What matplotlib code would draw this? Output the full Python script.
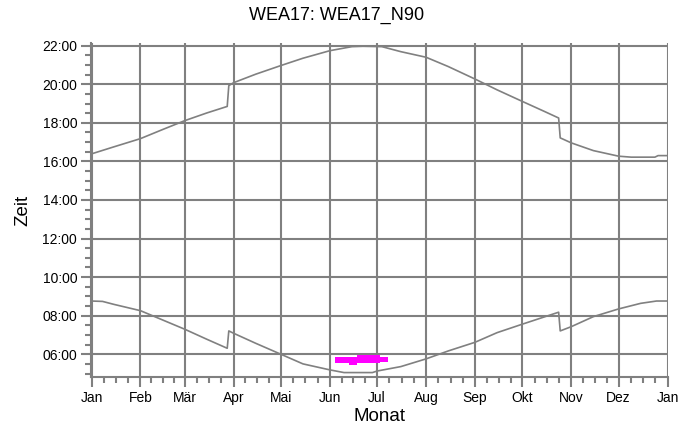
import numpy as np
import matplotlib
matplotlib.use("Agg")
import matplotlib.pyplot as plt
from matplotlib.ticker import FixedLocator, MultipleLocator, FuncFormatter

plt.rcParams['font.family'] = ['Liberation Sans', 'DejaVu Sans']

# month labels and lengths (day of year axis)
month_labels = ["Jan", "Feb", "Mär", "Apr", "Mai", "Jun", "Jul",
                "Aug", "Sep", "Okt", "Nov", "Dez", "Jan"]
month_days = [31, 28, 31, 30, 31, 30, 31, 31, 30, 31, 30, 31]

# upper curve (sunset, local time in hours)
days_top = [0, 14, 31, 45, 59, 73, 86, 87, 90, 104, 120, 134, 151, 165, 172,
            184, 196, 212, 226, 243, 257, 273, 287, 296, 297, 304, 318, 334,
            342, 357, 359, 365]
time_top = [16.39, 16.75, 17.18, 17.65, 18.11, 18.51, 18.85, 19.93, 20.08,
            20.52, 20.97, 21.35, 21.74, 21.95, 21.97, 21.95, 21.69, 21.40,
            20.92, 20.27, 19.71, 19.11, 18.59, 18.25, 17.22, 16.96, 16.56,
            16.27, 16.22, 16.22, 16.30, 16.30]

# lower curve (sunrise)
days_bot = [0, 7, 14, 31, 45, 59, 73, 86, 87, 90, 104, 120, 134, 151, 160,
            178, 181, 196, 212, 226, 243, 257, 273, 296, 297, 304, 318, 334,
            348, 358, 365]
time_bot = [8.76, 8.74, 8.59, 8.26, 7.78, 7.30, 6.78, 6.31, 7.21, 7.09, 6.57,
            6.00, 5.50, 5.19, 5.05, 5.05, 5.13, 5.36, 5.76, 6.17, 6.62, 7.12,
            7.56, 8.18, 7.21, 7.43, 7.95, 8.35, 8.64, 8.76, 8.76]

# shadow flicker periods (day, start, end)
flick_days = [154, 158, 162, 164, 167, 169, 172, 175, 178, 181, 184, 186, 188]
flick_start = [5.53, 5.53, 5.53, 5.44, 5.44, 5.53, 5.53, 5.53, 5.53, 5.53,
               5.62, 5.62, 5.62]
flick_end = [5.84, 5.84, 5.84, 5.84, 5.84, 5.96, 5.96, 5.96, 5.96, 5.96,
             5.88, 5.88, 5.88]

gray = "#808080"

fig = plt.figure(figsize=(6.97, 4.32), dpi=100)
ax = fig.add_axes([0.1306, 0.1273, 0.8278, 0.7732])

ax.plot(days_top, time_top, color=gray, lw=1.2, zorder=3)
ax.plot(days_bot, time_bot, color=gray, lw=1.2, zorder=3)
ax.fill_between(flick_days, flick_start, flick_end, step="mid",
                color="#ff00ff", lw=0, zorder=4)

starts = np.concatenate([[0], np.cumsum(month_days)])
minor = []
for s, n in zip(starts[:-1], month_days):
    minor += [s + n * q / 4 for q in (1, 2, 3)]

ax.set_xlim(-0.3, 365.3)
ax.set_ylim(4.82, 22.14)
ax.xaxis.set_major_locator(FixedLocator(starts))
ax.xaxis.set_minor_locator(FixedLocator(minor))
ax.set_xticklabels(month_labels)
ax.yaxis.set_major_locator(MultipleLocator(2))
ax.yaxis.set_minor_locator(MultipleLocator(0.5))


def hhmm(v, pos):
    m = int(round(v * 60))
    return f"{m // 60:02d}:{m % 60:02d}"


ax.yaxis.set_major_formatter(FuncFormatter(hhmm))

ax.grid(True, which="major", color=gray, lw=1.5, zorder=1)
for side in ("top", "right"):
    ax.spines[side].set_visible(False)
for side in ("left", "bottom"):
    ax.spines[side].set_color(gray)
    ax.spines[side].set_linewidth(1.5)

ax.tick_params(which="major", direction="out", length=7, width=1.5,
               color=gray, labelsize=10, pad=3)
ax.tick_params(which="minor", direction="out", length=4, width=1.5, color=gray)

fig.text(0.4835, 0.965, "WEA17: WEA17_N90", fontsize=13,
         ha="center", va="center")
ax.set_xlabel("Monat", fontsize=13.5, labelpad=2)
ax.set_ylabel("Zeit", fontsize=13.5, labelpad=8)

fig.savefig("out.png", dpi=100)
